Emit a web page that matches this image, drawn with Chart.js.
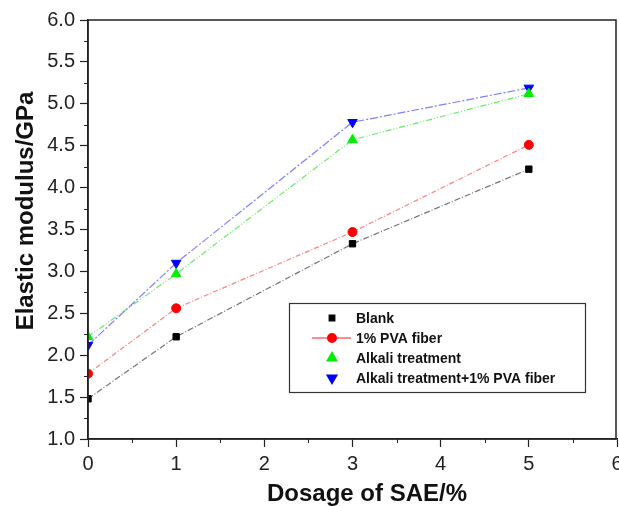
<!DOCTYPE html>
<html>
<head>
<meta charset="utf-8">
<script src="https://cdn.jsdelivr.net/npm/chart.js@4/dist/chart.umd.min.js"></script>
<style>
    html, body { margin: 0; padding: 0; background: #fff; }
    #wrap { width: 619px; height: 506px; }
</style>
</head>
<body>
<div id="wrap"><canvas id="chart" width="619" height="506"></canvas></div>
<script>
const dosage = [0, 1, 3, 5];
const seriesNames = ['Blank', '1% PVA fiber', 'Alkali treatment', 'Alkali treatment+1% PVA fiber'];
const blank = [1.48, 2.22, 3.33, 4.22];
const pvaFiber = [1.78, 2.56, 3.47, 4.51];
const alkali = [2.22, 2.97, 4.57, 5.12];
const alkaliPva = [2.12, 3.10, 4.78, 5.19];
const xTitle = 'Dosage of SAE/%';
const yTitle = 'Elastic modulus/GPa';

const AXIS_FONT = 'Arial, "Liberation Sans", sans-serif';

function toPoints(values) {
    return dosage.map((x, i) => ({x, y: values[i]}));
}

const styles = [
    {color: '#000000', line: 'rgba(0,0,0,0.55)', pointStyle: 'rect', radius: 4.5, rotation: 0, dash: [6, 2, 1, 2]},
    {color: '#ff0000', line: 'rgba(255,0,0,0.5)', pointStyle: 'circle', radius: 4.5, rotation: 0, dash: [5, 2, 1, 2]},
    {color: '#00ee00', line: 'rgba(0,220,0,0.6)', pointStyle: 'triangle', radius: 5.5, rotation: 0, dash: [6, 2, 1, 2, 1, 2]},
    {color: '#0000ff', line: 'rgba(0,0,255,0.5)', pointStyle: 'triangle', radius: 5.5, rotation: 180, dash: [8, 2, 2, 2]}
];

const seriesValues = [blank, pvaFiber, alkali, alkaliPva];

// minor ticks, frame, axis titles and the legend box inside the plot
const decorPlugin = {
    id: 'decor',
    afterDraw(chart) {
        const {ctx, chartArea: area, scales} = chart;
        ctx.save();
        ctx.strokeStyle = '#222';
        ctx.lineWidth = 1;
        ctx.beginPath();
        for (let v = 1.25; v < 6; v += 0.5) {
            const y = Math.round(scales.y.getPixelForValue(v)) + 0.5;
            ctx.moveTo(area.left - 4, y);
            ctx.lineTo(area.left, y);
        }
        for (let v = 0.5; v < 6; v += 1) {
            const x = Math.round(scales.x.getPixelForValue(v)) + 0.5;
            ctx.moveTo(x, area.bottom);
            ctx.lineTo(x, area.bottom + 4);
        }
        ctx.stroke();

        // frame
        ctx.lineWidth = 1.5;
        ctx.strokeStyle = '#222';
        ctx.strokeRect(area.left, area.top, area.right - area.left - 1, area.bottom - area.top);

        // axis titles (sit off-centre in the original)
        ctx.fillStyle = '#111';
        ctx.font = 'bold 24px ' + AXIS_FONT;
        ctx.textAlign = 'center';
        ctx.textBaseline = 'middle';
        ctx.fillText(xTitle, 367, 494);
        ctx.save();
        ctx.translate(26, 211);
        ctx.rotate(-Math.PI / 2);
        ctx.fillText(yTitle, 0, 0);
        ctx.restore();

        // legend
        const box = {x: 289, y: 303, w: 296, h: 89};
        ctx.fillStyle = '#fff';
        ctx.fillRect(box.x, box.y, box.w, box.h);
        ctx.lineWidth = 1.2;
        ctx.strokeStyle = '#333';
        ctx.strokeRect(box.x + 0.5, box.y + 0.5, box.w, box.h);

        ctx.font = 'bold 14px ' + AXIS_FONT;
        ctx.textAlign = 'left';
        seriesNames.forEach((name, i) => {
            const st = styles[i];
            const y = box.y + 15 + i * 20;
            const mx = 332;
            if (i === 1) {
                ctx.strokeStyle = 'rgba(255,0,0,0.45)';
                ctx.lineWidth = 2;
                ctx.beginPath();
                ctx.moveTo(312, y);
                ctx.lineTo(351, y);
                ctx.stroke();
            }
            ctx.fillStyle = st.color;
            ctx.strokeStyle = st.color;
            Chart.helpers.drawPoint(ctx, {
                pointStyle: st.pointStyle,
                radius: st.radius - 0.5,
                rotation: st.rotation,
                borderWidth: 1
            }, mx, y);
            ctx.fillStyle = '#111';
            ctx.fillText(name, 356, y + 1);
        });
        ctx.restore();
    }
};

new Chart(document.getElementById('chart'), {
    type: 'scatter',
    data: {
        datasets: seriesValues.map((values, i) => ({
            label: seriesNames[i],
            data: toPoints(values),
            showLine: true,
            borderColor: styles[i].line,
            borderWidth: 1.2,
            borderDash: styles[i].dash,
            pointStyle: styles[i].pointStyle,
            pointRotation: styles[i].rotation,
            pointRadius: styles[i].radius,
            pointBackgroundColor: styles[i].color,
            pointBorderColor: styles[i].color,
            pointBorderWidth: 1
        }))
    },
    options: {
        responsive: false,
        animation: false,
        layout: {
            autoPadding: false,
            padding: {top: 20, right: 2, left: 0, bottom: 0}
        },
        plugins: {
            legend: {display: false},
            tooltip: {enabled: false}
        },
        scales: {
            x: {
                type: 'linear',
                min: 0,
                max: 6,
                afterFit(scale) {
                    scale.height = 67;
                    scale.paddingRight = 0;
                },
                ticks: {
                    stepSize: 1,
                    padding: 5,
                    color: '#222',
                    font: {family: AXIS_FONT, size: 20}
                },
                grid: {
                    drawOnChartArea: false,
                    tickLength: 8,
                    tickColor: '#222',
                    tickWidth: 1.2
                },
                border: {color: '#222', width: 1.5}
            },
            y: {
                min: 1,
                max: 6,
                afterFit(scale) {
                    scale.width = 88;
                    scale.paddingTop = 0;
                },
                ticks: {
                    stepSize: 0.5,
                    padding: 5,
                    color: '#222',
                    font: {family: AXIS_FONT, size: 20},
                    callback: v => v.toFixed(1)
                },
                grid: {
                    drawOnChartArea: false,
                    tickLength: 8,
                    tickColor: '#222',
                    tickWidth: 1.2
                },
                border: {color: '#222', width: 1.5}
            }
        }
    },
    plugins: [decorPlugin]
});
</script>
</body>
</html>
